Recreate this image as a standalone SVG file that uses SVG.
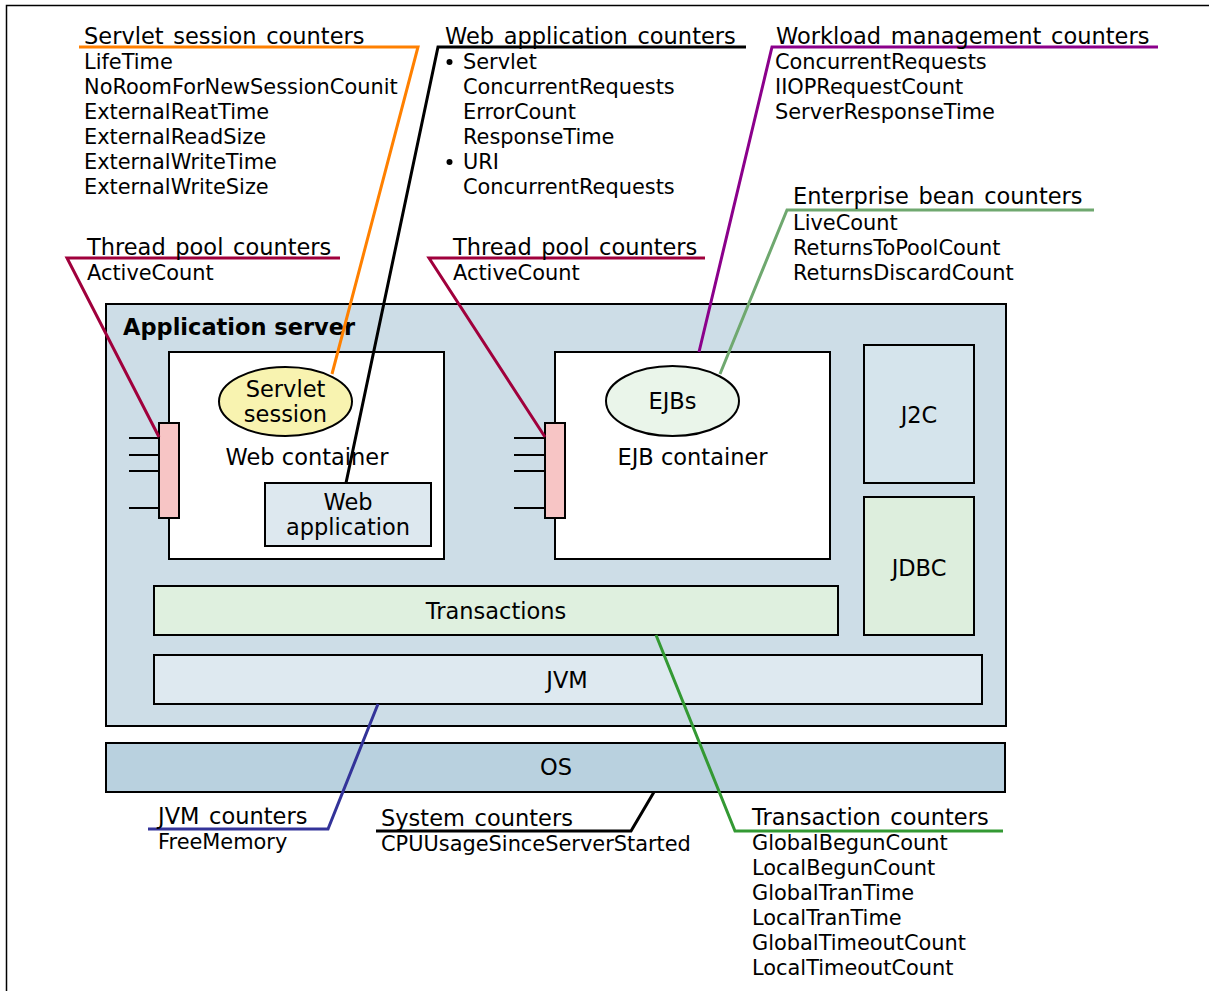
<svg xmlns="http://www.w3.org/2000/svg" width="1209" height="991" viewBox="0 0 1209 991">
<style>
text{font-family:"DejaVu Sans","Verdana",sans-serif;fill:#000}
.t{font-size:22.5px;word-spacing:2.5px}
.i{font-size:20.9px}
.c{font-size:22.5px;text-anchor:middle}
.b{font-size:22.5px;font-weight:bold}
.box{stroke:#000;stroke-width:2}
.ln{fill:none;stroke-width:3}
.tick{stroke:#000;stroke-width:2}
</style>
<rect x="6.5" y="5.5" width="1300" height="1100" fill="#fff" stroke="#000" stroke-width="1.5"/>

<g id="appserver">
<rect class="box" x="106" y="304" width="900" height="422" fill="#cddde7"/>
<text class="b" x="123" y="335">Application server</text>
</g>
<g id="webcontainer">
<rect class="box" x="169" y="352" width="275" height="207" fill="#fff"/>
<text class="c" x="307" y="465">Web container</text>
</g>
<g id="servletsession">
<ellipse class="box" cx="285.5" cy="401.5" rx="66.5" ry="34.5" fill="#f8f3b0"/>
<text class="c" x="285.5" y="397">Servlet</text>
<text class="c" x="285.5" y="422">session</text>
</g>
<g id="webapp">
<rect class="box" x="265" y="483" width="166" height="63" fill="#dde8ef"/>
<text class="c" x="348" y="510">Web</text>
<text class="c" x="348" y="535">application</text>
</g>
<g id="threadpool1">
<line class="tick" x1="129" y1="438" x2="159" y2="438"/>
<line class="tick" x1="129" y1="455" x2="159" y2="455"/>
<line class="tick" x1="129" y1="471" x2="159" y2="471"/>
<line class="tick" x1="129" y1="508" x2="159" y2="508"/>
<rect class="box" x="159" y="423" width="20" height="95" fill="#f7c5c5"/>
</g>
<g id="ejbcontainer">
<rect class="box" x="555" y="352" width="275" height="207" fill="#fff"/>
<text class="c" x="692.5" y="465">EJB container</text>
</g>
<g id="ejbs">
<ellipse class="box" cx="672.5" cy="401" rx="66.5" ry="35" fill="#eaf5ea"/>
<text class="c" x="672.5" y="409">EJBs</text>
</g>
<g id="threadpool2">
<line class="tick" x1="514" y1="438" x2="545" y2="438"/>
<line class="tick" x1="514" y1="455" x2="545" y2="455"/>
<line class="tick" x1="514" y1="471" x2="545" y2="471"/>
<line class="tick" x1="514" y1="508" x2="545" y2="508"/>
<rect class="box" x="545" y="423" width="20" height="95" fill="#f7c5c5"/>
</g>
<g id="j2c">
<rect class="box" x="864" y="345" width="110" height="138" fill="#d5e4ec"/>
<text class="c" x="919" y="423">J2C</text>
</g>
<g id="jdbc">
<rect class="box" x="864" y="497" width="110" height="138" fill="#ddeedd"/>
<text class="c" x="919" y="576">JDBC</text>
</g>
<g id="transactions">
<rect class="box" x="154" y="586" width="684" height="49" fill="#dff0df"/>
<text class="c" x="496" y="619">Transactions</text>
</g>
<g id="jvm">
<rect class="box" x="154" y="655" width="828" height="49" fill="#dee9f0"/>
<text class="c" x="567" y="688">JVM</text>
</g>
<g id="os">
<rect class="box" x="106" y="743" width="899" height="49" fill="#b9d1df"/>
<text class="c" x="556" y="775">OS</text>
</g>

<g id="connectors">
<polyline class="ln" stroke="#ff8000" points="79,47 418,47 332,374"/>
<polyline class="ln" stroke="#000" points="746,47 438,47 346,483"/>
<polyline class="ln" stroke="#8b008b" points="1158,47 772,47 699,352"/>
<polyline class="ln" stroke="#6fa86f" points="1094,210 787,210 720,374"/>
<polyline class="ln" stroke="#a0003c" points="340,258 67,258 159,437"/>
<polyline class="ln" stroke="#a0003c" points="705,258 429,258 545,437"/>
<polyline class="ln" stroke="#333399" points="148,829 328,829 378,704"/>
<polyline class="ln" stroke="#000" points="376,831 631,831 654,792"/>
<polyline class="ln" stroke="#339933" points="1003,831 735,831 656,635"/>
</g>

<g id="servletcounters">
<text class="t" x="84" y="44">Servlet session counters</text>
<text class="i" x="84" y="69">LifeTime</text>
<text class="i" x="84" y="94">NoRoomForNewSessionCounit</text>
<text class="i" x="84" y="119">ExternalReatTime</text>
<text class="i" x="84" y="144">ExternalReadSize</text>
<text class="i" x="84" y="169">ExternalWriteTime</text>
<text class="i" x="84" y="194">ExternalWriteSize</text>
</g>
<g id="webappcounters">
<text class="t" x="445" y="44">Web application counters</text>
<circle cx="449.5" cy="62" r="3"/>
<text class="i" x="463" y="69">Servlet</text>
<text class="i" x="463" y="94">ConcurrentRequests</text>
<text class="i" x="463" y="119">ErrorCount</text>
<text class="i" x="463" y="144">ResponseTime</text>
<circle cx="449.5" cy="162" r="3"/>
<text class="i" x="463" y="169">URI</text>
<text class="i" x="463" y="194">ConcurrentRequests</text>
</g>
<g id="workloadcounters">
<text class="t" x="776" y="44">Workload management counters</text>
<text class="i" x="775" y="69">ConcurrentRequests</text>
<text class="i" x="775" y="94">IIOPRequestCount</text>
<text class="i" x="775" y="119">ServerResponseTime</text>
</g>
<g id="ejbcounters">
<text class="t" x="793" y="204">Enterprise bean counters</text>
<text class="i" x="793" y="230">LiveCount</text>
<text class="i" x="793" y="255">ReturnsToPoolCount</text>
<text class="i" x="793" y="280">ReturnsDiscardCount</text>
</g>
<g id="threadcounters1">
<text class="t" x="87" y="255">Thread pool counters</text>
<text class="i" x="87" y="280">ActiveCount</text>
</g>
<g id="threadcounters2">
<text class="t" x="453" y="255">Thread pool counters</text>
<text class="i" x="453" y="280">ActiveCount</text>
</g>
<g id="jvmcounters">
<text class="t" x="158" y="824">JVM counters</text>
<text class="i" x="158" y="849">FreeMemory</text>
</g>
<g id="systemcounters">
<text class="t" x="381" y="826">System counters</text>
<text class="i" x="381" y="851">CPUUsageSinceServerStarted</text>
</g>
<g id="transactioncounters">
<text class="t" x="752" y="825">Transaction counters</text>
<text class="i" x="752" y="850">GlobalBegunCount</text>
<text class="i" x="752" y="875">LocalBegunCount</text>
<text class="i" x="752" y="900">GlobalTranTime</text>
<text class="i" x="752" y="925">LocalTranTime</text>
<text class="i" x="752" y="950">GlobalTimeoutCount</text>
<text class="i" x="752" y="975">LocalTimeoutCount</text>
</g>
</svg>
